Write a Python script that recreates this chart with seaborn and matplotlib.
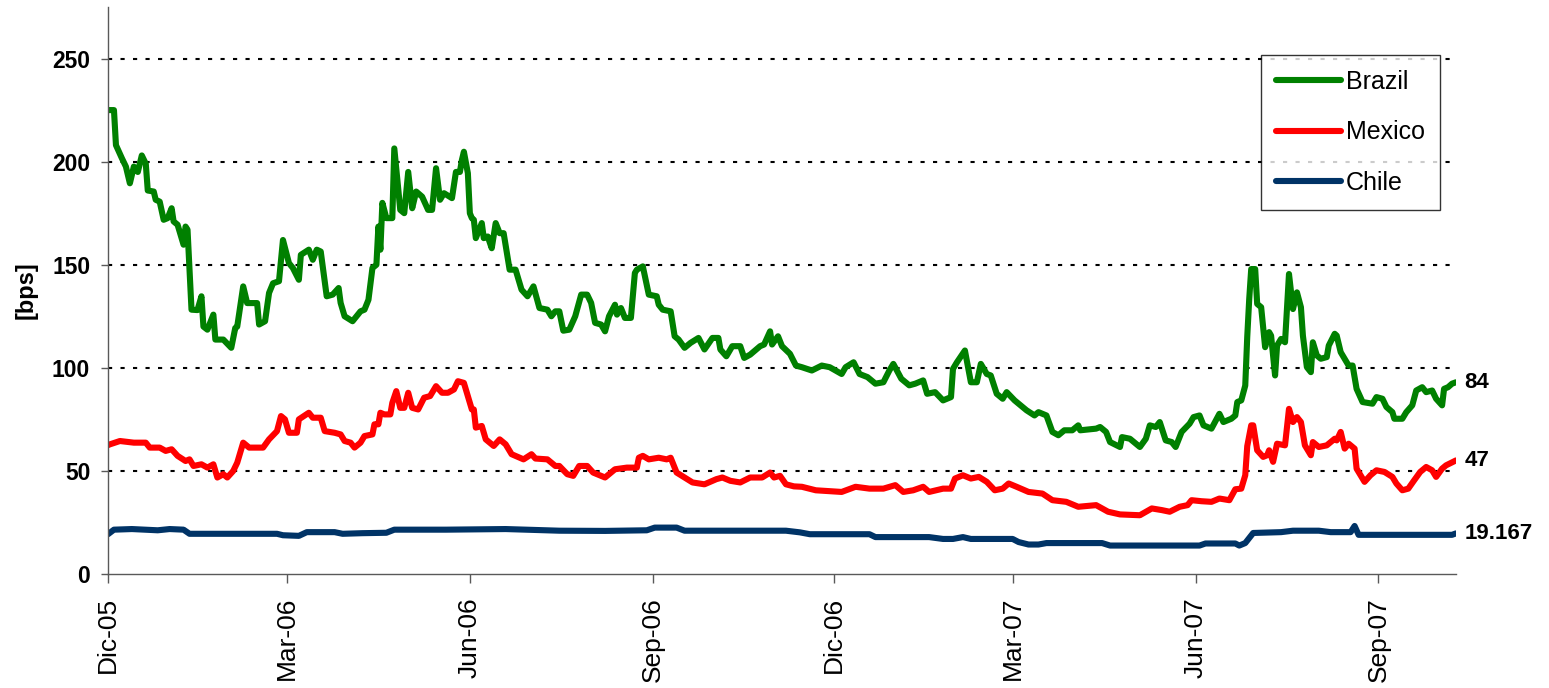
import numpy as np
import pandas as pd
import matplotlib
matplotlib.use("Agg")
import matplotlib.pyplot as plt
import seaborn as sns

# spread series; days counted from 1-Dec-2005
START = pd.Timestamp("2005-12-01")

brazil_day = [0, 3, 4, 7, 9, 11, 13, 15, 17, 19, 20, 23, 24, 26, 28, 30, 32, 33, 35, 38,
              39, 40, 42, 45, 47, 48, 50, 53, 54, 58, 62, 64, 65, 68, 70, 75, 76, 79, 81, 83,
              86, 88, 91, 93, 96, 97, 101, 103, 105, 107, 110, 113, 116, 117, 119, 123, 127, 129, 131, 133,
              135, 136, 137, 138, 140, 143, 144, 147, 149, 151, 153, 155, 158, 161, 163, 165, 167, 169, 173, 175,
              177, 178, 179, 181, 182, 183, 184, 185, 188, 189, 191, 193, 195, 197, 199, 202, 205, 208, 211, 214,
              217, 221, 223, 225, 227, 229, 232, 235, 238, 241, 243, 245, 248, 250, 252, 255, 256, 258, 260, 263,
              265, 266, 269, 272, 276, 277, 279, 283, 285, 287, 290, 293, 297, 300, 304, 307, 308, 311, 314, 318,
              320, 323, 328, 330, 333, 334, 337, 339, 343, 346, 349, 354, 359, 363, 369, 371, 375, 378, 382, 386,
              390, 393, 395, 399, 403, 406, 410, 412, 416, 420, 424, 425, 427, 431, 434, 437, 439, 442, 444, 447,
              450, 452, 456, 458, 462, 466, 468, 472, 475, 478, 481, 485, 488, 489, 497, 499, 502, 504, 509, 510,
              514, 516, 519, 522, 524, 527, 529, 532, 535, 537, 540, 544, 546, 549, 551, 555, 559, 561, 565, 567,
              568, 570, 572, 573, 574, 575, 577, 578, 580, 582, 584, 585, 587, 588, 590, 592, 594, 596, 598, 600,
              601, 603, 605, 606, 608, 610, 613, 614, 617, 618, 620, 622, 624, 626, 628, 631, 636, 638, 641, 643,
              646, 647, 651, 653, 656, 658, 661, 663, 666, 668, 671, 672, 674, 676, 678]
brazil_bps = [225, 225, 208, 201.6, 197.6, 189.5, 197.6, 195, 203, 199, 186, 185.5, 181.5, 180.6, 171.8, 172.6, 177.4, 171, 169.4, 159.7,
              168.5, 167, 128.2, 128, 134.7, 120, 118.5, 125.8, 113.7, 113.7, 109.7, 119.3, 120, 139.5, 131.4, 131.4, 121, 122.6, 136.3, 141,
              142, 162, 150.8, 148.4, 142.7, 154.8, 157.3, 152.4, 157.3, 156.4, 134.7, 135.5, 138.7, 131.5, 125, 122.6, 127.4, 128.2, 133, 148.4,
              150, 168.5, 157.3, 180, 172.6, 172.6, 206.4, 176.6, 175, 195, 177.4, 185.5, 183, 176.6, 176.6, 196.8, 181.5, 184.7, 182.3, 195,
              195, 200.8, 204.8, 194.4, 175, 172.6, 171.8, 162.9, 170.2, 162.9, 163.7, 158, 170.2, 165.3, 165.3, 147.6, 147.6, 137.9, 134.7, 139.5,
              129, 128.2, 125, 127.4, 127.4, 118, 118.5, 125, 135.5, 135.5, 131.5, 121.8, 121, 117.7, 125, 130.6, 125.8, 129, 124.2, 124.2,
              146, 147.6, 149.2, 135.5, 134.7, 130.6, 128.2, 127.4, 115.3, 113.7, 109.7, 112.1, 114.5, 108.9, 114.5, 114.5, 108.9, 105.6, 110.5, 110.5,
              104.8, 106.4, 110.5, 111.3, 117.7, 111.3, 115.3, 110.5, 106.8, 101.1, 100.3, 98.7, 101.1, 100.3, 97, 100.3, 102.7, 97, 95.5, 92.3,
              93, 98.7, 101.9, 94.7, 91.5, 92.3, 93.9, 87.4, 88.2, 84.2, 85.8, 99.5, 102.7, 108.4, 93, 93, 101.9, 97, 96.3, 87.4,
              85, 88.2, 84.2, 82.6, 79.4, 76.9, 78.5, 76.9, 68.9, 67.3, 69.7, 69.7, 72.1, 69.7, 70.5, 71.3, 68.9, 64, 61.6, 66.4,
              65.6, 64, 61.6, 65.6, 72.1, 71.3, 73.7, 64.8, 64, 61.6, 68.9, 72.9, 76.1, 76.9, 72.1, 70.5, 77.7, 73.7, 75.3, 76.9,
              83.4, 84.2, 91.4, 115, 133.4, 147.9, 147.9, 131, 129.4, 110, 117.3, 115.6, 96.3, 110.8, 114, 112.4, 145.5, 128.5, 136.6, 129.4,
              115.6, 100.3, 97.9, 112.4, 106, 104.4, 105.2, 110.8, 116.5, 115.6, 107.6, 104.4, 101.1, 101.1, 89.8, 83.4, 82.6, 85.8, 85, 81,
              78.5, 75.3, 75.3, 78.5, 81.8, 89, 90.6, 88.2, 89, 85, 81.8, 89.8, 90.6, 92.3, 93]

mexico_day = [0, 1, 6, 13, 19, 21, 26, 29, 32, 35, 39, 41, 43, 47, 50, 53, 55, 58, 60, 63,
              65, 68, 71, 78, 81, 85, 87, 89, 91, 95, 96, 101, 103, 107, 109, 114, 117, 119, 122, 124,
              127, 129, 133, 134, 136, 137, 139, 142, 143, 145, 147, 149, 151, 153, 156, 159, 162, 165, 168, 171,
              174, 176, 179, 181, 183, 184, 185, 188, 190, 194, 197, 200, 203, 209, 213, 215, 221, 225, 227, 231,
              234, 237, 241, 244, 250, 255, 261, 266, 267, 269, 272, 277, 281, 283, 286, 290, 294, 300, 306, 309,
              313, 318, 323, 329, 333, 335, 338, 341, 345, 349, 356, 369, 376, 383, 390, 396, 400, 405, 410, 413,
              420, 424, 426, 430, 434, 438, 442, 446, 450, 453, 457, 463, 470, 475, 482, 488, 497, 503, 509, 519,
              525, 530, 534, 539, 543, 545, 550, 555, 559, 564, 567, 570, 572, 573, 575, 576, 578, 581, 583, 584,
              586, 588, 592, 594, 596, 598, 600, 602, 605, 606, 609, 613, 617, 618, 620, 622, 624, 627, 628, 632,
              635, 638, 642, 646, 648, 651, 654, 657, 660, 663, 666, 668, 671, 673, 678]
mexico_bps = [62.5, 62.9, 64.5, 63.7, 63.7, 61.3, 61.3, 59.7, 60.5, 57.3, 54.8, 55.6, 52.4, 53.2, 51.6, 53.2, 46.8, 48.4, 46.8, 50,
              54, 63.7, 61.3, 61.3, 65.3, 69.3, 76.6, 75, 68.5, 68.5, 75, 78.2, 75.8, 75.8, 69.3, 68.5, 67.7, 64.5, 63.7, 61.3,
              63.7, 66.9, 67.7, 72.6, 72.6, 78.2, 77.4, 77.4, 83, 88.7, 80.6, 80.6, 87.9, 80.6, 79.8, 85.5, 86.3, 91.1, 87.9, 87.9,
              89.5, 93.5, 92.7, 86.3, 79.8, 79.8, 71, 71.8, 65.3, 62.1, 65.3, 62.9, 58.1, 55.6, 58.1, 56, 55.6, 52.4, 52.4, 48.4,
              47.6, 52.4, 52.4, 49.2, 46.8, 50.8, 51.6, 51.6, 56.4, 57.3, 55.6, 56.4, 55.6, 56.4, 49.2, 46.8, 44.4, 43.5, 46, 46.8,
              45.2, 44.4, 46.8, 46.8, 49.2, 46.8, 47.6, 43.5, 42.5, 42.3, 40.6, 39.8, 42.3, 41.4, 41.4, 43.1, 39.8, 40.6, 42.3, 39.8,
              41.4, 41.4, 46.3, 47.9, 46.3, 47.1, 44.7, 40.6, 41.4, 43.9, 42.3, 39.8, 39, 35.8, 35, 32.6, 33.4, 30.2, 28.9, 28.5,
              31.8, 31, 30.2, 32.6, 33.4, 35.8, 35.3, 35, 36.6, 35.8, 41.1, 41.4, 47.9, 62, 72.1, 72.1, 60, 56.8, 57.6, 60,
              54.4, 63.2, 62.4, 80.1, 73.7, 76.1, 73.7, 62.4, 57.6, 64, 61.6, 62.4, 65.6, 64.8, 68.9, 60.8, 63.2, 60.8, 51.1, 44.7,
              47.9, 50.3, 49.5, 47.1, 43.9, 40.6, 41.4, 45.5, 49.5, 51.9, 50.3, 47.1, 51.1, 52.7, 55.1]

chile_day = [0, 3, 12, 25, 31, 38, 41, 60, 85, 88, 96, 100, 114, 118, 128, 140, 144, 170, 200, 227,
             250, 271, 275, 286, 290, 320, 341, 348, 353, 370, 383, 386, 400, 413, 420, 425, 430, 434, 445, 455,
             458, 463, 468, 472, 490, 500, 504, 520, 549, 552, 560, 567, 569, 572, 576, 590, 596, 609, 615, 625,
             627, 629, 650, 676, 678]
chile_bps = [19.3, 21.5, 21.8, 21.2, 21.8, 21.5, 19.5, 19.5, 19.5, 18.8, 18.5, 20.3, 20.3, 19.5, 19.8, 20, 21.5, 21.5, 21.8, 21,
             20.9, 21.2, 22.5, 22.5, 21, 21, 21, 20.2, 19.3, 19.3, 19.3, 17.9, 17.9, 17.9, 17, 17, 17.9, 17, 17, 17,
             15.5, 14.3, 14.3, 15, 15, 15, 13.8, 13.8, 13.8, 14.8, 14.8, 14.8, 13.8, 15, 19.9, 20.3, 21, 21, 20.3, 20.3,
             23.3, 19, 19, 19, 19.7]

countries = ["Brazil", "Mexico", "Chile"]
colors = {"Brazil": "#008000", "Mexico": "#FF0000", "Chile": "#003366"}
end_labels = {"Brazil": "84", "Mexico": "47", "Chile": "19.167"}

tick_dates = ["2005-12-01", "2006-03-01", "2006-06-01", "2006-09-01", "2006-12-01",
              "2007-03-01", "2007-06-01", "2007-09-01"]
tick_labels = ["Dic-05", "Mar-06", "Jun-06", "Sep-06", "Dic-06", "Mar-07", "Jun-07", "Sep-07"]


def to_frame(name, days, vals):
    return pd.DataFrame({
        "date": START + pd.to_timedelta(days, unit="D"),
        "bps": vals,
        "country": name,
    })


df = pd.concat([
    to_frame("Brazil", brazil_day, brazil_bps),
    to_frame("Mexico", mexico_day, mexico_bps),
    to_frame("Chile", chile_day, chile_bps),
], ignore_index=True)

sns.set_style("white")
plt.rcParams["font.family"] = ["Liberation Sans", "DejaVu Sans"]
plt.rcParams["text.color"] = "black"
plt.rcParams["axes.labelcolor"] = "black"
plt.rcParams["xtick.color"] = "black"
plt.rcParams["ytick.color"] = "black"

fig = plt.figure(figsize=(15.49, 6.88), dpi=100)
ax = fig.add_axes([108 / 1549, 1 - 574 / 688, 1348 / 1549, 567 / 688])

sns.lineplot(data=df, x="date", y="bps", hue="country", hue_order=countries,
             palette=colors, linewidth=4.4, estimator=None, sort=False,
             legend=False, ax=ax, solid_joinstyle="round", solid_capstyle="round")

ax.set_ylim(0, 275)
ax.set_xlim(START, START + pd.Timedelta(days=678))
ax.set_yticks([0, 50, 100, 150, 200, 250])
ax.set_xticks(pd.to_datetime(tick_dates))
ax.set_xticklabels(tick_labels, rotation=90, fontsize=19)
for lbl in ax.get_yticklabels():
    lbl.set_fontweight("bold")
    lbl.set_fontsize(16.5)

ax.yaxis.grid(True, color="black", linestyle=(0, (2, 4)), linewidth=1.5)
ax.xaxis.grid(False)
ax.set_axisbelow(True)
# no dotted line over the zero axis
ax.yaxis.get_gridlines()[0].set_visible(False)

for side in ["top", "right"]:
    ax.spines[side].set_visible(False)
for side in ["left", "bottom"]:
    ax.spines[side].set_color("0.35")
    ax.spines[side].set_linewidth(1.0)

ax.tick_params(axis="y", direction="out", length=4.8, width=1, color="0.35", pad=8, left=True)
ax.tick_params(axis="x", direction="out", length=6.5, width=1, color="0.35", pad=10, bottom=True)

ax.set_xlabel("")
ax.set_ylabel("[bps]", fontsize=17, fontweight="bold")
ax.yaxis.set_label_coords(-0.052, 0.5)

# value labels at line ends
for name, days, vals in [("Brazil", brazil_day, brazil_bps),
                         ("Mexico", mexico_day, mexico_bps),
                         ("Chile", chile_day, chile_bps)]:
    ax.annotate(end_labels[name], xy=(START + pd.Timedelta(days=days[-1]), vals[-1]),
                xytext=(6, 0), textcoords="offset points", ha="left", va="center",
                fontsize=16, fontweight="bold", annotation_clip=False)

leg = ax.legend(handles=ax.lines[:3], labels=countries, loc="upper left",
                bbox_to_anchor=(0.855, 0.915), borderaxespad=0, fontsize=18,
                handlelength=2.6, handletextpad=0.2, labelspacing=1.05,
                borderpad=0.6, fancybox=False, frameon=True)
leg.get_frame().set_edgecolor("black")
leg.get_frame().set_linewidth(1.0)
for h in leg.get_lines():
    h.set_solid_capstyle("round")

fig.savefig("out.png", dpi=100)
